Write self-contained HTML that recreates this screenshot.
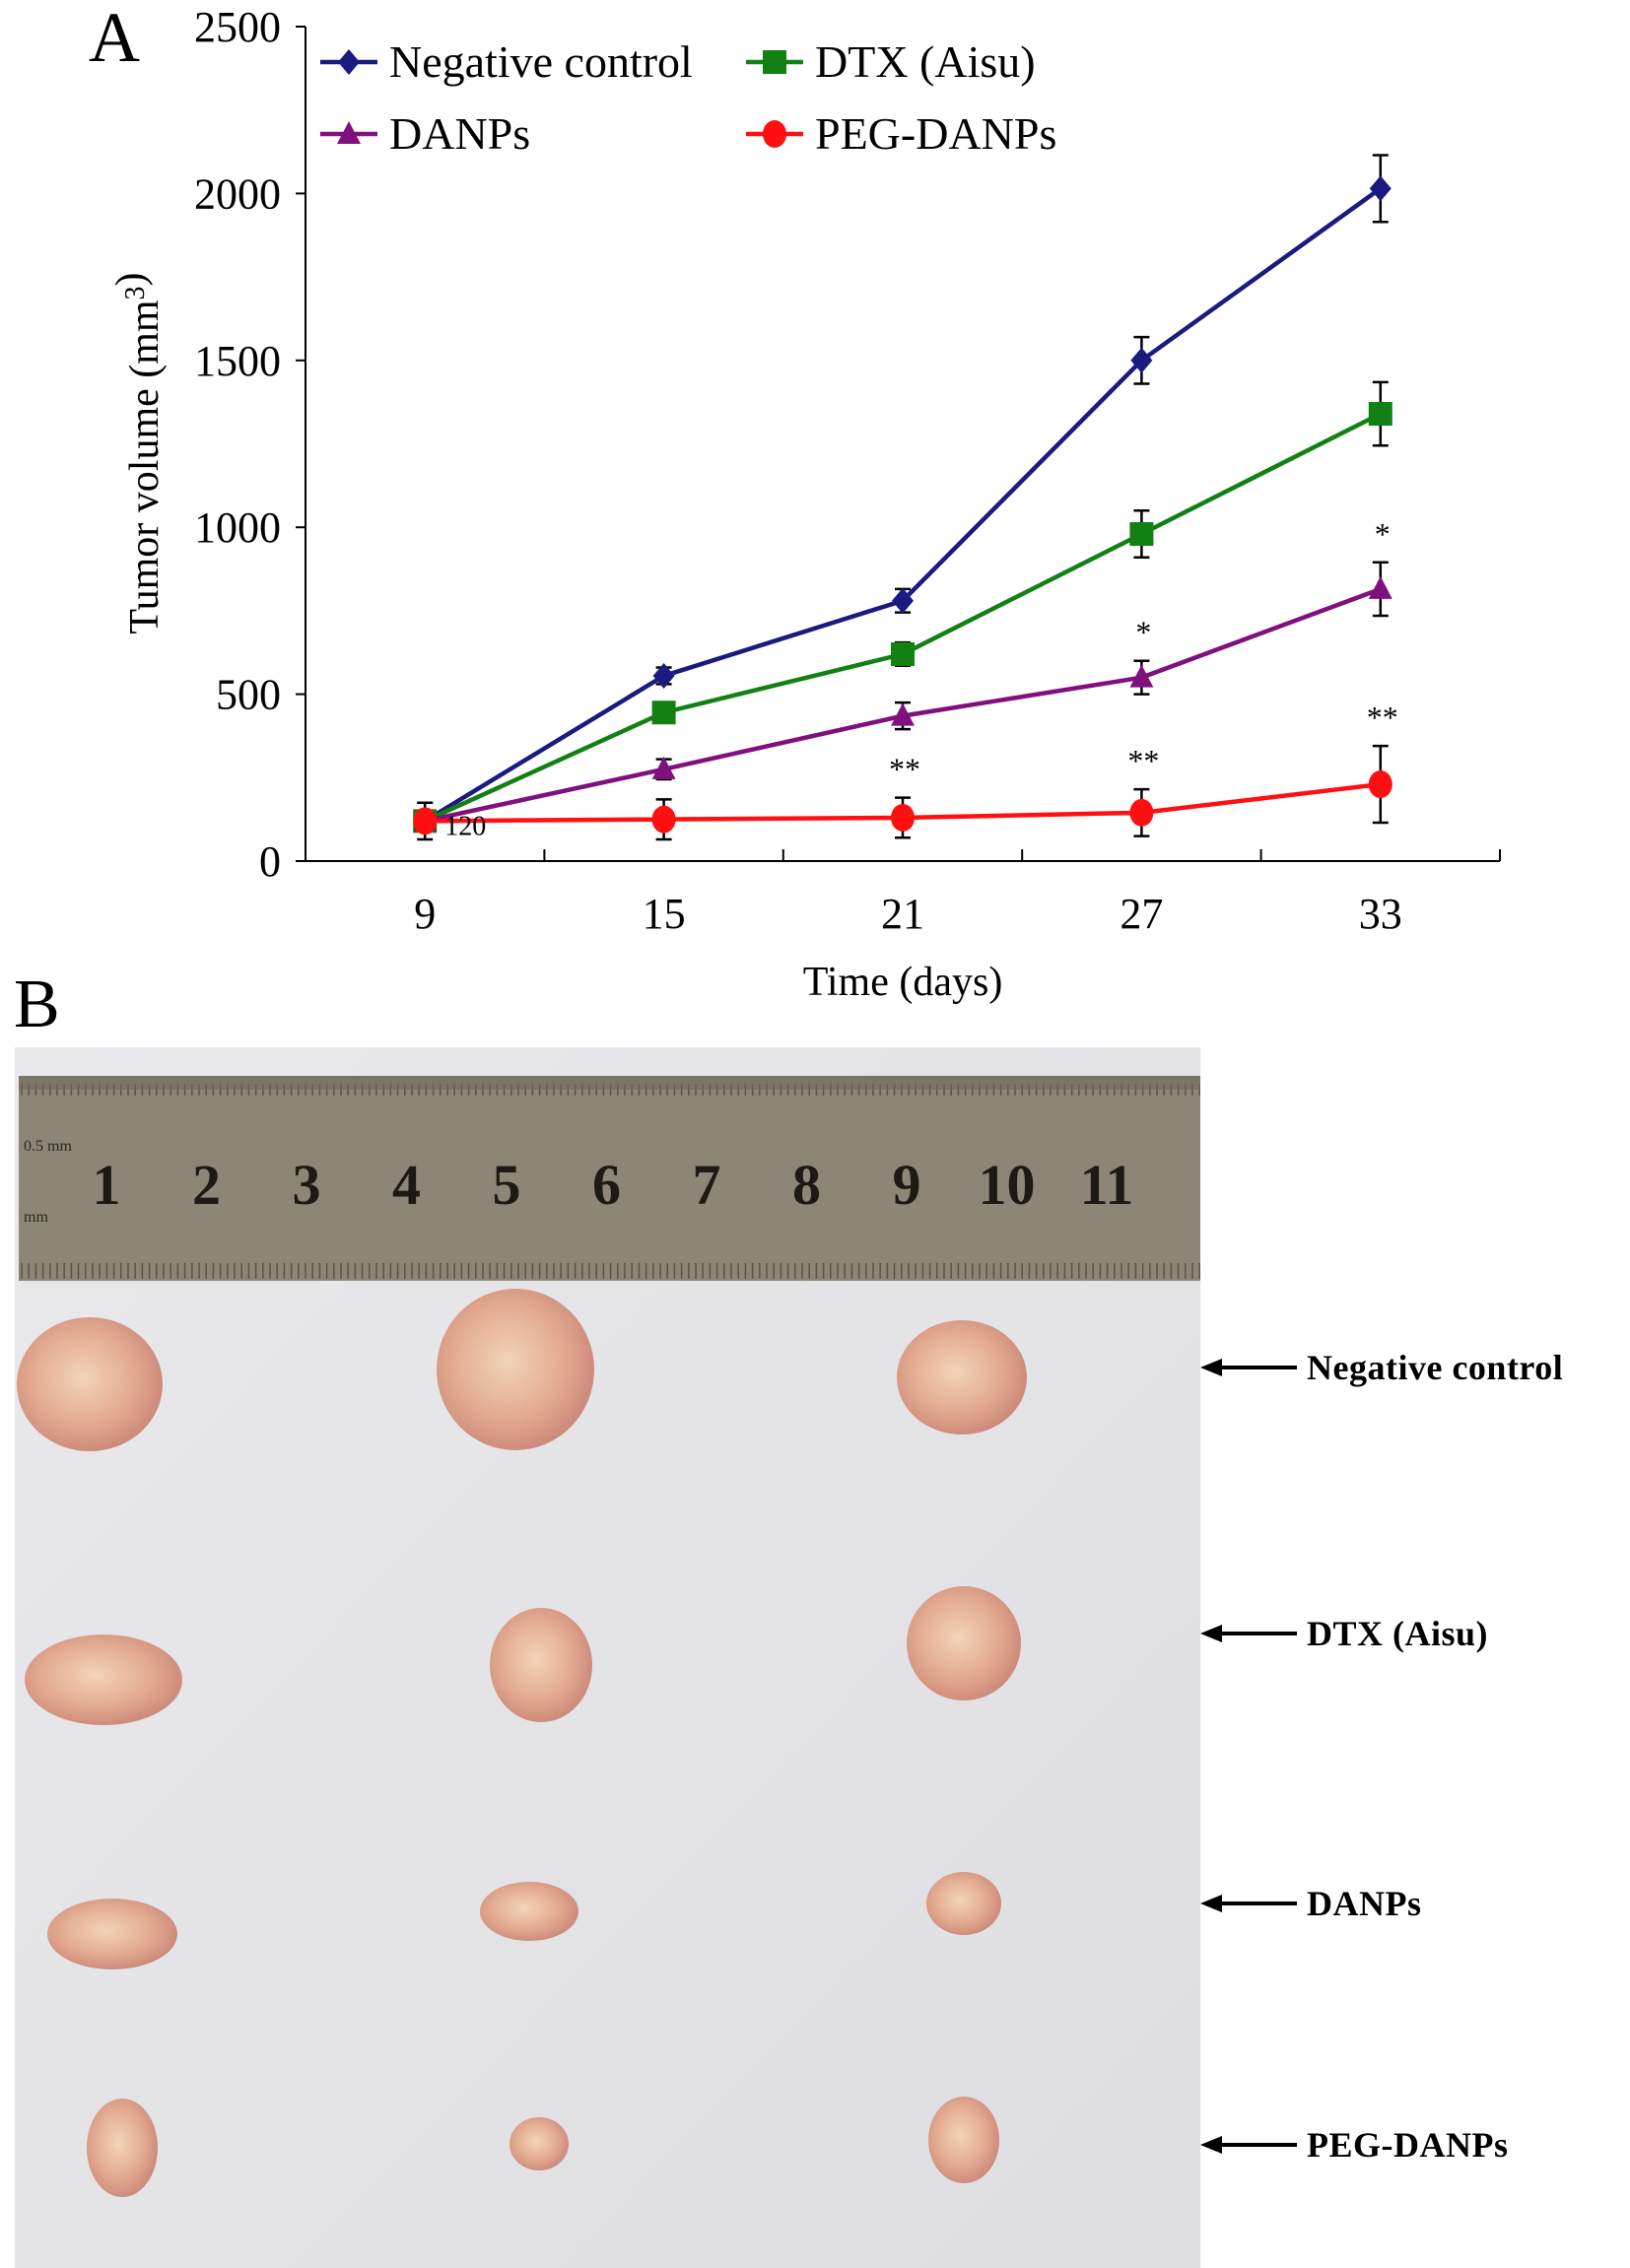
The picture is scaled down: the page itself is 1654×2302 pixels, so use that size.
<!DOCTYPE html>
<html><head><meta charset="utf-8"><style>
html,body{margin:0;padding:0;background:#fff;}
svg{display:block;font-family:"Liberation Serif",serif;}
</style></head><body>
<svg id="fig" width="1654" height="2302" viewBox="0 0 1654 2302" xmlns="http://www.w3.org/2000/svg">
<rect width="1654" height="2302" fill="#fff"/>
<text x="90" y="62" font-size="72">A</text>
<g id="chart"></g>
<text x="14" y="1042" font-size="70">B</text>
<g id="photo">
  <defs>
    <linearGradient id="bg" x1="0" y1="0" x2="1" y2="1">
      <stop offset="0" stop-color="#e9e9ec"/><stop offset="0.5" stop-color="#e4e4e7"/><stop offset="1" stop-color="#dedee2"/>
    </linearGradient>
    <radialGradient id="tum" cx="0.45" cy="0.45" r="0.6">
      <stop offset="0" stop-color="#f3d4b8"/><stop offset="0.6" stop-color="#e2a98f"/><stop offset="1" stop-color="#c98477"/>
    </radialGradient>
  </defs>
  <rect x="15" y="1063" width="1203" height="1239" fill="url(#bg)"/>
  <rect x="19" y="1092" width="1199" height="208" fill="#8c8676"/>
  <g id="ruler"></g>
  <g id="tumors"></g>
  <g id="labels"></g>
</g>
</svg>
<script>
const NS='http://www.w3.org/2000/svg';
const days=[9,15,21,27,33];
const negVals=[120,555,780,1500,2015];
const negErr=[0,25,35,70,100];
const dtxVals=[120,445,620,980,1340];
const dtxErr=[0,25,35,70,95];
const danpVals=[120,275,435,550,815];
const danpErr=[0,30,40,50,80];
const pegVals=[120,125,130,145,230];
const pegErr=[55,60,60,70,115];
const yTicks=[0,500,1000,1500,2000,2500];
const xTickDays=[6,12,18,24,30,36];
const sigDANPs=['','','','*','*'];
const sigPEG=['','','**','**','**'];

const X0=310,X1=1522,Y0=874,Y1=27;
const xs=d=>X0+(d-6)/(36-6)*(X1-X0);
const ys=v=>Y0-v/2500*(Y0-Y1);
const chart=document.getElementById('chart');
function mk(tag,attrs,parent){const e=document.createElementNS(NS,tag);for(const k in attrs)e.setAttribute(k,attrs[k]);(parent||chart).appendChild(e);return e;}

let a=mk('line',{x1:X0,y1:Y1,x2:X0,y2:Y0,stroke:'#000','stroke-width':2});


a=mk('line',{x1:X0,y1:Y0,x2:X1,y2:Y0,stroke:'#000','stroke-width':2});


yTicks.forEach(v=>{
  const t=mk('line',{x1:X0-10,y1:ys(v),x2:X0,y2:ys(v),stroke:'#000','stroke-width':2});
  
  
  const l=mk('text',{x:X0-25,y:ys(v)+15,'font-size':44,'text-anchor':'end'});
  l.textContent=v;
  
  
});
xTickDays.forEach(d=>{
  const t=mk('line',{x1:xs(d),y1:Y0,x2:xs(d),y2:Y0-12,stroke:'#000','stroke-width':2});
  
  
});
days.forEach(d=>{
  const l=mk('text',{x:xs(d),y:Y0+68,'font-size':44,'text-anchor':'middle'});
  l.textContent=d;
  
  
});
let tt=mk('text',{x:xs(21),y:1010,'font-size':42,'text-anchor':'middle'});
tt.textContent='Time (days)';


tt=mk('text',{x:0,y:0,'font-size':42,'text-anchor':'middle',transform:'translate(160,460) rotate(-90)'});
tt.innerHTML='Tumor volume (mm<tspan font-size="28" dy="-14">3</tspan>)';



function marker(type,x,y,color,g){
  let m;
  if(type==='diamond')m=mk('polygon',{points:`${x},${y-13} ${x+11},${y} ${x},${y+13} ${x-11},${y}`,fill:color},g);
  else if(type==='square')m=mk('rect',{x:x-12,y:y-12,width:24,height:24,fill:color},g);
  else if(type==='triangle')m=mk('polygon',{points:`${x},${y-13} ${x+12},${y+10} ${x-12},${y+10}`,fill:color},g);
  else m=mk('ellipse',{cx:x,cy:y,rx:12,ry:14,fill:color},g);
  return m;
}
const series=[
  {name:'negative-control',vals:negVals,err:negErr,color:'#1a1a80',m:'diamond'},
  {name:'dtx-aisu',vals:dtxVals,err:dtxErr,color:'#138013',m:'square'},
  {name:'danps',vals:danpVals,err:danpErr,color:'#80107f',m:'triangle'},
  {name:'peg-danps',vals:pegVals,err:pegErr,color:'#ff0f0f',m:'circle'}
];
series.forEach(s=>{
  const g=mk('g',{});
  
  
  s.vals.forEach((v,i)=>{
    if(!s.err[i])return;
    const x=xs(days[i]),yt=ys(v+s.err[i]),yb=ys(v-s.err[i]);
    const e=mk('path',{d:`M${x},${yt}V${yb}M${x-8},${yt}H${x+8}M${x-8},${yb}H${x+8}`,stroke:'#000','stroke-width':2.5,fill:'none'},g);
    
    
  });
  const ln=mk('polyline',{points:s.vals.map((v,i)=>xs(days[i])+','+ys(v)).join(' '),fill:'none',stroke:s.color,'stroke-width':4.5},g);
  
  
  s.vals.forEach((v,i)=>{
    const p=marker(s.m,xs(days[i]),ys(v),s.color,g);
    
    
  });
});
[[sigDANPs,danpVals,danpErr],[sigPEG,pegVals,pegErr]].forEach(([sig,vals,err])=>{
  sig.forEach((s,i)=>{
    if(!s)return;
    const t=mk('text',{x:xs(days[i])+2,y:ys(vals[i]+err[i])-18,'font-size':32,'text-anchor':'middle'});
    t.textContent=s;
    
    
  });
});
let lb=mk('text',{x:xs(9)+20,y:ys(negVals[0])+14,'font-size':28});
lb.textContent=negVals[0];



const legPos=[[325,63],[757,63],[325,136],[757,136]];
const legText=['Negative control','DTX (Aisu)','DANPs','PEG-DANPs'];
series.forEach((s,i)=>{
  const [lx,ly]=legPos[i];
  const g=mk('g',{});
  
  
  mk('line',{x1:lx,y1:ly,x2:lx+58,y2:ly,stroke:s.color,'stroke-width':4.5},g);
  marker(s.m,lx+29,ly,s.color,g);
  const t=mk('text',{x:lx+70,y:ly+15,'font-size':46},g);
  t.textContent=legText[i];
});

const rg=document.getElementById('ruler');
for(let x=22;x<1218;x+=7.2){
  mk('line',{x1:x,y1:1100,x2:x,y2:1112,stroke:'#5a5548','stroke-width':1.5},rg);
  mk('line',{x1:x,y1:1282,x2:x,y2:1298,stroke:'#5a5548','stroke-width':1.5},rg);
}
mk('rect',{x:19,y:1092,width:1199,height:14,fill:'#6f6a5c',opacity:0.6},rg);
for(let i=1;i<=11;i++){
  const x=108+(i-1)*101.5;
  const t=mk('text',{x:x,y:1222,'font-size':58,'font-weight':'bold','text-anchor':'middle',fill:'#1c1a14'},rg);
  t.textContent=i;
}
let rt=mk('text',{x:24,y:1168,'font-size':16,fill:'#2a2820'},rg);rt.textContent='0.5 mm';
rt=mk('text',{x:24,y:1240,'font-size':16,fill:'#2a2820'},rg);rt.textContent='mm';

const tumors=[[91,1405,74,68],[523,1390,80,82],[976,1398,66,58],
 [105,1705,80,46],[549,1690,52,58],[978,1668,58,58],
 [114,1963,66,36],[537,1940,50,30],[978,1932,38,32],
 [124,2180,36,50],[547,2176,30,27],[978,2172,36,44]];
const tg=document.getElementById('tumors');
tumors.forEach(t=>{
  const e=mk('ellipse',{cx:t[0],cy:t[1],rx:t[2],ry:t[3],fill:'url(#tum)'},tg);
  
  
});
const lg=document.getElementById('labels');
[['Negative control',1388],['DTX (Aisu)',1658],['DANPs',1932],['PEG-DANPs',2177]].forEach(([s,y])=>{
  const g=mk('g',{},lg);
  
  
  mk('line',{x1:1232,y1:y,x2:1316,y2:y,stroke:'#000','stroke-width':4},g);
  mk('polygon',{points:`1218,${y} 1240,${y-9} 1240,${y+9}`,fill:'#000'},g);
  const t=mk('text',{x:1326,y:y+12,'font-size':36,'font-weight':'bold','letter-spacing':'0.5'},g);
  t.textContent=s;
});
</script>
</body></html>
